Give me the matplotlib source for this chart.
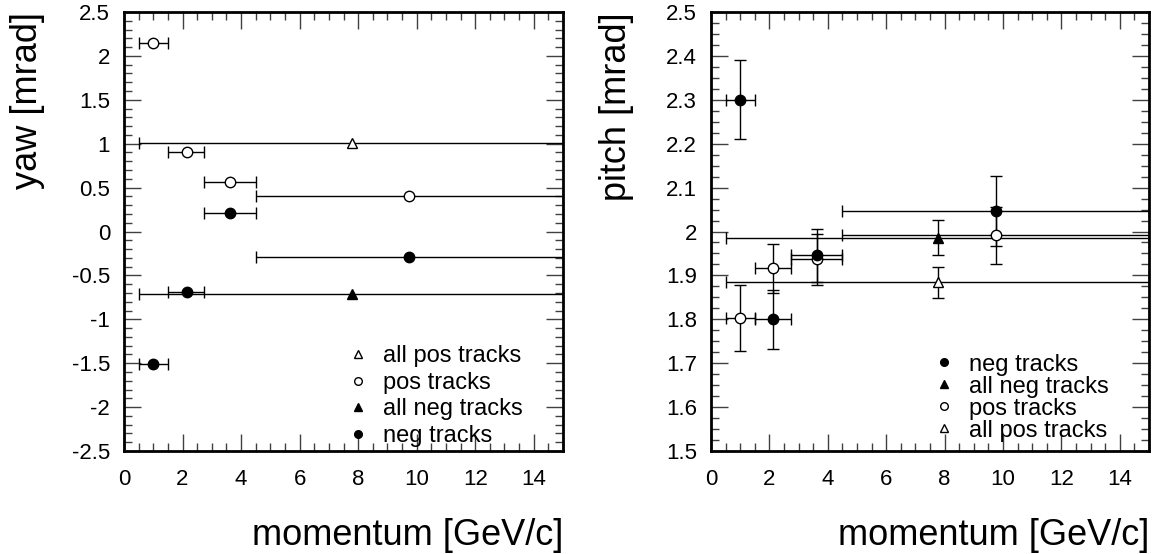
# yaw / pitch vs momentum
import matplotlib
matplotlib.use("Agg")
import matplotlib.pyplot as plt
from matplotlib.ticker import MultipleLocator, FormatStrFormatter
from matplotlib.lines import Line2D
import numpy as np

plt.rcParams['font.family'] = ['Liberation Sans', 'DejaVu Sans']
plt.rcParams['axes.unicode_minus'] = False

# momentum bins (GeV/c)
p_mean = np.array([1.0, 2.14, 3.62, 9.75])
p_lo = np.array([0.5, 1.5, 2.75, 4.5])
p_hi = np.array([1.5, 2.75, 4.5, 15.0])
p_all = np.array([7.78])
p_all_lo = np.array([0.5])
p_all_hi = np.array([15.0])

# yaw [mrad]
yaw_pos = np.array([2.15, 0.91, 0.567, 0.408])
yaw_neg = np.array([-1.51, -0.69, 0.214, -0.294])
yaw_allpos = np.array([1.01])
yaw_allneg = np.array([-0.708])

# pitch [mrad]
pitch_neg = np.array([2.30, 1.80, 1.946, 2.047])
pitch_neg_err = np.array([0.09, 0.067, 0.06, 0.08])
pitch_pos = np.array([1.802, 1.916, 1.937, 1.991])
pitch_pos_err = np.array([0.075, 0.055, 0.058, 0.065])
pitch_allneg = np.array([1.986])
pitch_allneg_err = np.array([0.04])
pitch_allpos = np.array([1.884])
pitch_allpos_err = np.array([0.035])

W, H = 1155, 554
fig = plt.figure(figsize=(W/100, H/100), dpi=100)
axL = fig.add_axes([124/W, (H-451)/H, 439/W, 439/H])
axR = fig.add_axes([711/W, (H-451)/H, 438/W, 439/H])

ms = 7.5
capsz = 4


def draw(ax, x, xlo, xhi, y, yerr, marker, filled):
    xerr = np.vstack([x - xlo, xhi - x])
    ax.errorbar(x, y, xerr=xerr, yerr=yerr, fmt='none', ecolor='black',
                elinewidth=1, capsize=capsz, capthick=1, zorder=2)
    ax.plot(x, y, linestyle='none', marker=marker, ms=ms,
            mfc='black' if filled else 'white', mec='black', mew=1, zorder=3)


def style(ax, ylim, ymaj, ymin, ylabel, labx):
    ax.set_xlim(0, 15)
    ax.set_ylim(*ylim)
    ax.xaxis.set_major_locator(MultipleLocator(2))
    ax.xaxis.set_minor_locator(MultipleLocator(0.5))
    ax.yaxis.set_major_locator(MultipleLocator(ymaj))
    ax.yaxis.set_minor_locator(MultipleLocator(ymin))
    ax.xaxis.set_major_formatter(FormatStrFormatter('%g'))
    ax.yaxis.set_major_formatter(FormatStrFormatter('%g'))
    ax.tick_params(which='both', direction='in', top=True, right=True,
                   labelsize=16, width=1, color='0.25')
    ax.tick_params(which='major', length=12)
    ax.tick_params(which='minor', length=6)
    ax.tick_params(axis='x', pad=13)
    ax.tick_params(axis='y', pad=10)
    for s in ax.spines.values():
        s.set_linewidth(2)
    ax.set_ylabel(ylabel, fontsize=26, loc='top')
    ax.yaxis.set_label_coords(labx, 1.0)
    ax.set_xlabel('momentum [GeV/c]', fontsize=26, loc='right', labelpad=20)


# yaw panel
draw(axL, p_all, p_all_lo, p_all_hi, yaw_allpos, None, '^', False)
draw(axL, p_mean, p_lo, p_hi, yaw_pos, None, 'o', False)
draw(axL, p_all, p_all_lo, p_all_hi, yaw_allneg, None, '^', True)
draw(axL, p_mean, p_lo, p_hi, yaw_neg, None, 'o', True)
style(axL, (-2.5, 2.5), 0.5, 0.1, 'yaw [mrad]', -0.18)

# pitch panel
draw(axR, p_mean, p_lo, p_hi, pitch_pos, pitch_pos_err, 'o', False)
draw(axR, p_all, p_all_lo, p_all_hi, pitch_allpos, pitch_allpos_err, '^', False)
draw(axR, p_all, p_all_lo, p_all_hi, pitch_allneg, pitch_allneg_err, '^', True)
draw(axR, p_mean, p_lo, p_hi, pitch_neg, pitch_neg_err, 'o', True)
style(axR, (1.5, 2.5), 0.1, 0.025, 'pitch [mrad]', -0.176)


def h(marker, filled):
    return Line2D([], [], linestyle='none', marker=marker, ms=5.5,
                  mfc='black' if filled else 'white', mec='black', mew=1)


axL.legend([h('^', False), h('o', False), h('^', True), h('o', True)],
           ['all pos tracks', 'pos tracks', 'all neg tracks', 'neg tracks'],
           frameon=False, fontsize=17, loc='lower left',
           bbox_to_anchor=(0.491, -0.012), handlelength=0.8, handletextpad=0.65,
           labelspacing=0.19, borderaxespad=0)

axR.legend([h('o', True), h('^', True), h('o', False), h('^', False)],
           ['neg tracks', 'all neg tracks', 'pos tracks', 'all pos tracks'],
           frameon=False, fontsize=17, loc='lower left',
           bbox_to_anchor=(0.4886, 0.0), handlelength=0.8, handletextpad=0.65,
           labelspacing=0.0, borderaxespad=0)

fig.savefig('out.png', dpi=100)
